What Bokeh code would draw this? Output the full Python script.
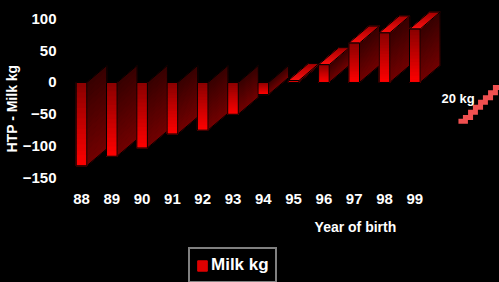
from bokeh.plotting import figure
from bokeh.models import FixedTicker, Label, Legend, LegendItem, Range1d, ColumnDataSource, Title
from bokeh.embed import file_html
from bokeh.resources import INLINE

# ---------------- data ----------------
years = ["88", "89", "90", "91", "92", "93", "94", "95", "96", "97", "98", "99"]
milk_kg = [-131, -116, -103, -81, -75, -50, -19, 3, 28, 62, 78, 84]
y_ticks = [-150, -100, -50, 0, 50, 100]
# small step-shaped trend marker at the right ("20 kg")
trend_x = [12.44, 12.67, 12.84, 13.00, 13.17, 13.33, 13.50, 13.66, 13.83]
trend_y = [-61, -55, -47, -39, -31, -24, -16, -8, -8]
trend_label = "20 kg"
series_name = "Milk kg"
x_title = "Year of birth"
y_title = "HTP - Milk kg"

# ---------------- style ----------------
FONT = "Liberation Sans"
BAR_HALF = 0.175     # half width of front face (category units)
DX = 0.66            # depth offset, category units
DY = 26.7            # depth offset, value units
NSL = 16
AXIS_AT = -163.5     # value level where the category labels hang
FRAME_LEFT = 72

FRONT_TOP, FRONT_BOT = (0x88, 0, 0), (0xff, 0, 0)
SIDE_TOP, SIDE_BOT = (0x36, 0, 0), (0x72, 0, 0)
TOP_FRONT, TOP_BACK = (0xff, 0x12, 0x12), (0xa8, 0, 0)


def mix(c0, c1, t):
    return "#%02x%02x%02x" % tuple(int(round(a + (b - a) * t)) for a, b in zip(c0, c1))


xs, ys, fc, fa, lc = [], [], [], [], []
legend_index = None


def add(px, py, fill, alpha, line):
    xs.append(px); ys.append(py); fc.append(fill); fa.append(alpha); lc.append(line)
    return len(xs) - 1


for i, v in enumerate(milk_kg):
    xl, xr = i - BAR_HALF, i + BAR_HALF
    lo, hi = min(0, v), max(0, v)
    # side face (gradient top->bottom)
    for k in range(NSL):
        ya = hi - (hi - lo) * k / NSL
        yb = hi - (hi - lo) * (k + 1) / NSL
        c = mix(SIDE_TOP, SIDE_BOT, (k + 0.5) / NSL)
        add([xr, xr, xr + DX, xr + DX], [ya, yb, yb + DY, ya + DY], c, 1.0, c)
    add([xr, xr, xr + DX, xr + DX], [hi, lo, lo + DY, hi + DY], "#000000", 0.0, "#000000")
    # top face for positive columns
    if v > 0:
        for k in range(NSL):
            ta, tb = k / NSL, (k + 1) / NSL
            c = mix(TOP_FRONT, TOP_BACK, (k + 0.5) / NSL)
            add([xl + DX * ta, xr + DX * ta, xr + DX * tb, xl + DX * tb],
                [v + DY * ta, v + DY * ta, v + DY * tb, v + DY * tb], c, 1.0, c)
        add([xl, xr, xr + DX, xl + DX], [v, v, v + DY, v + DY], "#000000", 0.0, "#000000")
    # front face (gradient top->bottom)
    for k in range(NSL):
        ya = hi - (hi - lo) * k / NSL
        yb = hi - (hi - lo) * (k + 1) / NSL
        c = mix(FRONT_TOP, FRONT_BOT, (k + 0.5) / NSL)
        idx = add([xl, xr, xr, xl], [ya, ya, yb, yb], c, 1.0, c)
        if legend_index is None and k == int(NSL * 0.7):
            legend_index = idx
    add([xl, xr, xr, xl], [hi, hi, lo, lo], "#000000", 0.0, "#000000")

src = ColumnDataSource(dict(xs=xs, ys=ys, fc=fc, fa=fa, lc=lc))

p = figure(width=499, height=282, output_backend="svg", toolbar_location=None,
           x_range=Range1d((FRAME_LEFT - 81) / 30.3, 13.795), y_range=Range1d(-314.5, 128.9),
           min_border_left=FRAME_LEFT, min_border_right=0, min_border_top=0, min_border_bottom=0,
           background_fill_color="#000000", border_fill_color="#000000",
           outline_line_color=None)
p.grid.visible = False

bars = p.patches("xs", "ys", source=src, fill_color="fc", fill_alpha="fa",
                 line_color="lc", line_width=1)

p.step(trend_x, trend_y, mode="after", line_color="#f05050", line_width=5,
       line_join="miter", line_cap="butt")

# axes
for ax in (p.xaxis[0], p.yaxis[0]):
    ax.axis_line_color = None
    ax.major_tick_line_color = None
    ax.minor_tick_line_color = None
    ax.major_label_text_color = "#ffffff"
    ax.major_label_text_font = FONT
    ax.major_label_text_font_style = "bold"
    ax.major_label_text_font_size = "15px"

yax = p.yaxis[0]
yax.ticker = FixedTicker(ticks=y_ticks)
yax.major_label_standoff = 10

p.xaxis[0].ticker = FixedTicker(ticks=list(range(len(years))))
p.xaxis[0].major_label_overrides = {i: y for i, y in enumerate(years)}
p.xaxis[0].major_label_standoff = 2
p.xaxis[0].fixed_location = AXIS_AT

p.add_layout(Title(text=y_title, align="left", offset=130, standoff=0, padding=0,
                   text_color="#ffffff", text_font=FONT, text_font_style="bold",
                   text_font_size="14px"), "left")
p.add_layout(Label(x=9.04, y=-227, text=x_title,
                   text_align="center", text_baseline="middle",
                   text_color="#ffffff", text_font=FONT, text_font_style="bold",
                   text_font_size="14px"))
p.add_layout(Label(x=11.88, y=-25, text=trend_label,
                   text_align="left", text_baseline="middle",
                   text_color="#ffffff", text_font=FONT, text_font_style="bold",
                   text_font_size="13px"))

legend = Legend(items=[LegendItem(label=series_name, renderers=[bars], index=legend_index)],
                location=(188 - FRAME_LEFT, -1), orientation="horizontal",
                background_fill_color="#000000", background_fill_alpha=1.0,
                border_line_color="#ffffff", border_line_width=2,
                label_text_color="#ffffff", label_text_font=FONT,
                label_text_font_style="bold", label_text_font_size="17px",
                glyph_width=12, glyph_height=13, label_standoff=3,
                padding=6, margin=0, label_height=20)
p.add_layout(legend)

html = file_html(p, INLINE)
html = html.replace("</head>", "<style>html,body{background:#000000;}</style></head>", 1)
open("out.html", "w").write(html)
